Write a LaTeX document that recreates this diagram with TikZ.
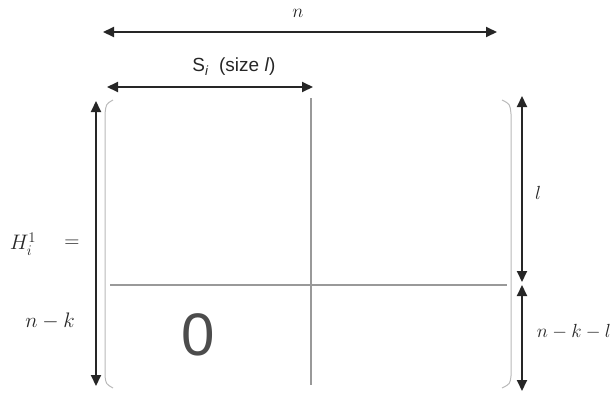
\RequirePackage{fix-cm}
\documentclass[tikz,border=0pt]{standalone}
\usepackage{fontspec}
\newfontfamily\labelsans{Liberation Sans}
\usetikzlibrary{arrows.meta, positioning}
\tikzset{
  dimarrow/.style={{Triangle[length=11pt,width=10pt]}-{Triangle[length=11pt,width=10pt]}, line width=2pt, black!85},
  splitline/.style={line width=2pt, gray!80},
  parenline/.style={line width=1pt, gray!55},
  mathlabel/.style={font=\fontsize{21}{24}\selectfont, inner sep=0pt, text=black!85},
  dimlabel/.style={font=\fontsize{19}{22}\selectfont, inner sep=0pt, text=black!85},
}

\begin{document}
\begin{tikzpicture}[x=1pt, y=-1pt]
  \useasboundingbox (0,0) rectangle (614,394);
  % end points
  \coordinate (nL) at (103,32);
  \coordinate (nR) at (497,32);
  \coordinate (sL) at (107,87);
  \coordinate (sR) at (313,87);
  \coordinate (rowT) at (96,101);
  \coordinate (rowB) at (96,386);
  \coordinate (lT) at (522,96);
  \coordinate (lB) at (522,282);
  \coordinate (rT) at (522,285);
  \coordinate (rB) at (522,391);
  \coordinate (hL) at (110,285);
  \coordinate (hR) at (507,285);
  \coordinate (vT) at (311,98);
  \coordinate (vB) at (311,385);

  % dimension arrows
  \draw[dimarrow] (nL) -- (nR);
  \draw[dimarrow] (sL) -- (sR);
  \draw[dimarrow] (rowT) -- (rowB);
  \draw[dimarrow] (lT) -- (lB);
  \draw[dimarrow] (rT) -- (rB);

  % matrix brackets
  \draw[parenline] (113,100) .. controls (106,104) .. (105,114) -- (105,376) .. controls (106,384) .. (113,388);
  \draw[parenline] (502,100) .. controls (510,104) .. (511,114) -- (511,376) .. controls (510,384) .. (502,388);

  % block split
  \draw[splitline] (hL) -- (hR);
  \draw[splitline] (vT) -- (vB);

  % labels
  \node[dimlabel] (nlab) at (298,13) {$n$};
  \node[inner sep=0pt, font=\labelsans\fontsize{19}{22}\selectfont, text=black!85] (slab) at (234,67) {S\textsubscript{\itshape i}\ \ (size \textit{l})};
  \node[mathlabel] (hlab) at (23,244) {$H_i^1$};
  \node[mathlabel] (eqlab) at (72,244) {$=$};
  \node[mathlabel] (nklab) at (50,321) {$n-k$};
  \node[dimlabel] (llab) at (538,193) {$l$};
  \node[mathlabel, font=\fontsize{19}{22}\selectfont, anchor=east] (nkllab) at (611,332) {$n-k-l$};
  \node[inner sep=0pt, font=\labelsans\fontsize{60}{64}\selectfont, text=black!70] (zero) at (198,335) {0};
\end{tikzpicture}
\end{document}
